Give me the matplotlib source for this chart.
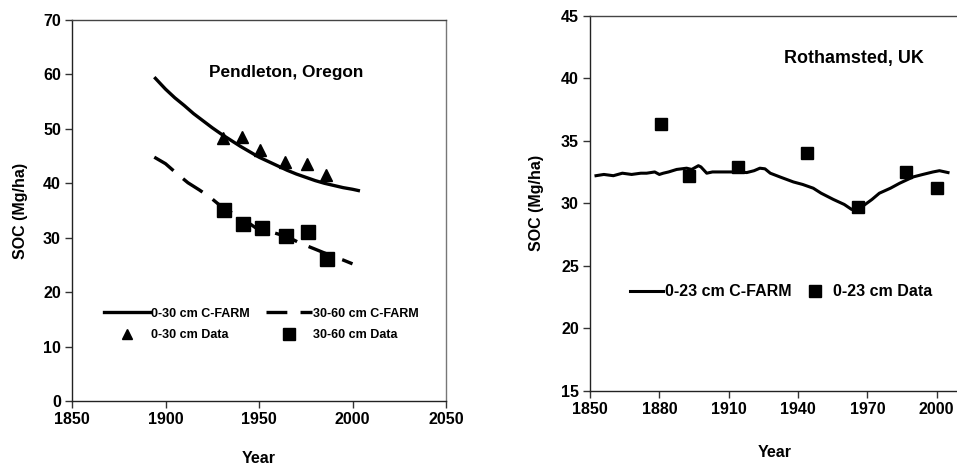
import matplotlib
matplotlib.use("Agg")
import matplotlib.pyplot as plt
from matplotlib.lines import Line2D

plt.rcParams['font.family'] = ['Liberation Sans', 'DejaVu Sans']
plt.rcParams['font.weight'] = 'bold'
plt.rcParams['lines.scale_dashes'] = False

# ---------------- Pendleton, Oregon ----------------
pend_years_top = [1894, 1897, 1900, 1905, 1910, 1915, 1920, 1925, 1930, 1935, 1940,
                  1945, 1950, 1955, 1960, 1965, 1970, 1975, 1980, 1985, 1990, 1995, 2000, 2004]
pend_model_top = [59.5, 58.4, 57.3, 55.7, 54.3, 52.8, 51.5, 50.2, 49.0, 47.9, 46.8,
                  45.8, 44.8, 44.0, 43.2, 42.4, 41.7, 41.1, 40.5, 40.0, 39.6, 39.2, 38.9, 38.6]

pend_years_sub = [1894, 1900, 1906, 1912, 1918, 1924, 1931, 1937, 1942, 1950, 1958,
                  1965, 1972, 1980, 1985, 1990, 1995, 2000]
pend_model_sub = [44.8, 43.6, 41.8, 40.1, 38.8, 37.4, 35.4, 34.3, 33.3, 31.4, 30.9,
                  30.2, 29.0, 27.9, 27.2, 26.5, 25.9, 25.2]

pend_data_top_years = [1930.9, 1941.0, 1950.6, 1963.7, 1975.6, 1985.9]
pend_data_top = [48.3, 48.5, 46.2, 43.9, 43.6, 41.6]

pend_data_sub_years = [1931.4, 1941.6, 1951.4, 1964.4, 1976.4, 1986.5]
pend_data_sub = [35.1, 32.6, 31.7, 30.4, 31.0, 26.0]

pend_xticks = [1850, 1900, 1950, 2000, 2050]
pend_yticks = [0, 10, 20, 30, 40, 50, 60, 70]

# ---------------- Rothamsted, UK ----------------
roth_years = [1852.6, 1856, 1860.1, 1864, 1868, 1872, 1874.5, 1878, 1880, 1881.7, 1884,
              1887.5, 1891.8, 1894, 1896.9, 1898, 1900.5, 1903, 1906.3, 1910, 1914,
              1917.8, 1921, 1923.5, 1925.7, 1928, 1932.2, 1938, 1942, 1946.6, 1950,
              1955.3, 1960, 1963.2, 1965, 1968.3, 1972, 1975.2, 1980, 1984.0, 1989.8,
              1994, 1998.4, 2001.2, 2004.9]
roth_model = [32.2, 32.3, 32.2, 32.4, 32.3, 32.4, 32.4, 32.5, 32.3, 32.4, 32.5,
              32.7, 32.8, 32.7, 33.0, 32.9, 32.4, 32.5, 32.5, 32.5, 32.5,
              32.45, 32.6, 32.8, 32.75, 32.4, 32.1, 31.7, 31.5, 31.2, 30.8,
              30.3, 29.9, 29.5, 29.7, 29.8, 30.3, 30.8, 31.2, 31.6, 32.1,
              32.3, 32.5, 32.6, 32.45]

roth_data_years = [1880.9, 1892.8, 1914.2, 1944.0, 1966.1, 1986.8, 2000.0]
roth_data = [36.3, 32.2, 32.9, 34.0, 29.7, 32.5, 31.2]

roth_xticks = [1850, 1880, 1910, 1940, 1970, 2000]
roth_yticks = [15, 20, 25, 30, 35, 40, 45]

W, H = 957, 466
fig = plt.figure(figsize=(W / 100, H / 100), dpi=100)

ax1 = fig.add_axes([72 / W, (H - 401) / H, 374 / W, 381 / H])
ax2 = fig.add_axes([590 / W, (H - 390.7) / H, 369.8 / W, 375 / H])

tick_fs = 11.5
lab_fs = 11.5

for ax in (ax1, ax2):
    ax.tick_params(direction='out', length=5, width=1, labelsize=tick_fs, pad=3,
                   color='#333333')
    for s in ax.spines.values():
        s.set_linewidth(1.0)
        s.set_color('#222222')
    ax.spines['top'].set_color('#444444')
    ax.spines['right'].set_color('#777777')

# ---- left panel ----
ax1.plot(pend_years_top, pend_model_top, color='black', lw=2.4, solid_capstyle='butt')
ax1.plot(pend_years_sub, pend_model_sub, color='black', lw=2.4, dashes=(17, 9),
         dash_capstyle='butt')
ax1.plot(pend_data_top_years, pend_data_top, linestyle='none', marker='^', color='black',
         markersize=8.5)
ax1.plot(pend_data_sub_years, pend_data_sub, linestyle='none', marker='s', color='black',
         markersize=9.5)
ax1.set_xlim(1850, 2050)
ax1.set_ylim(0, 70)
ax1.set_xticks(pend_xticks, labels=[str(v) for v in pend_xticks], fontweight='bold')
ax1.set_yticks(pend_yticks, labels=[str(v) for v in pend_yticks], fontweight='bold')
ax1.set_xlabel('Year', fontsize=lab_fs, fontweight='bold')
ax1.set_ylabel('SOC (Mg/ha)', fontsize=lab_fs, fontweight='bold')
ax1.xaxis.set_label_coords(0.5, -0.15)
ax1.xaxis.label.set_va('center')
ax1.yaxis.set_label_coords(-0.137, 0.5)
ax1.yaxis.label.set_va('center')
ax1.text(0.572, 0.861, 'Pendleton, Oregon', transform=ax1.transAxes, ha='center',
         va='center', fontsize=12.4, fontweight='bold')

h1 = [Line2D([], [], color='black', lw=2.4),
      Line2D([], [], linestyle='none', marker='^', color='black', markersize=7),
      Line2D([], [], color='black', lw=2.4, dashes=(15, 9.5)),
      Line2D([], [], linestyle='none', marker='s', color='black', markersize=9)]
l1 = ['0-30 cm C-FARM', '0-30 cm Data', '30-60 cm C-FARM', '30-60 cm Data']
ax1.legend(h1, l1, ncol=2, loc='upper left', bbox_to_anchor=(0.085, 0.245),
           frameon=False, prop={'weight': 'bold', 'size': 9},
           handlelength=3.7, handletextpad=0.05, columnspacing=1.3,
           labelspacing=0.78, borderpad=0, borderaxespad=0)

# ---- right panel ----
ax2.plot(roth_years, roth_model, color='black', lw=2.2)
ax2.plot(roth_data_years, roth_data, linestyle='none', marker='s', color='black',
         markersize=8.5)
ax2.set_xlim(1850, 2010)
ax2.set_ylim(15, 45)
ax2.set_xticks(roth_xticks, labels=[str(v) for v in roth_xticks], fontweight='bold')
ax2.set_yticks(roth_yticks, labels=[str(v) for v in roth_yticks], fontweight='bold')
ax2.set_xlabel('Year', fontsize=lab_fs, fontweight='bold')
ax2.set_ylabel('SOC (Mg/ha)', fontsize=lab_fs, fontweight='bold')
ax2.xaxis.set_label_coords(0.5, -0.165)
ax2.xaxis.label.set_va('center')
ax2.yaxis.set_label_coords(-0.145, 0.5)
ax2.yaxis.label.set_va('center')
ax2.text(0.7125, 0.887, 'Rothamsted, UK', transform=ax2.transAxes, ha='center',
         va='center', fontsize=12.9, fontweight='bold')

h2 = [Line2D([], [], color='black', lw=2.2),
      Line2D([], [], linestyle='none', marker='s', color='black', markersize=8)]
l2 = ['0-23 cm C-FARM', '0-23 cm Data']
ax2.legend(h2, l2, ncol=2, loc='center left', bbox_to_anchor=(0.108, 0.264),
           frameon=False, prop={'weight': 'bold', 'size': 11.5},
           handlelength=2.1, handletextpad=0.1, columnspacing=0.4,
           borderpad=0, borderaxespad=0)

fig.savefig('out.png', dpi=100)
